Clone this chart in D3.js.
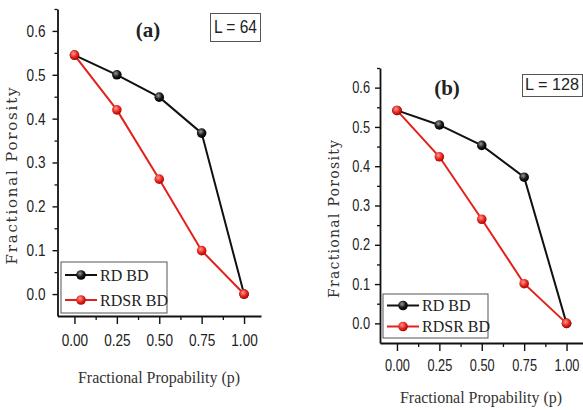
<!DOCTYPE html>
<html><head><meta charset="utf-8">
<script src="https://cdn.jsdelivr.net/npm/d3@7"></script>
<style>
html,body{margin:0;padding:0;background:#fff;}
svg{display:block;}
.tick text{font-family:"Liberation Sans Narrow","Arial Narrow","Liberation Sans",Arial,sans-serif;}
</style></head>
<body>
<svg id="chart" width="583" height="410"></svg>
<script>
// ---- data ----
const pValues = [0, 0.25, 0.5, 0.75, 1.0];
const rdBD_L64 = [0.545, 0.500, 0.449, 0.367, 0.0];
const rdsrBD_L64 = [0.545, 0.420, 0.262, 0.099, 0.0];
const rdBD_L128 = [0.542, 0.505, 0.453, 0.372, 0.0];
const rdsrBD_L128 = [0.542, 0.424, 0.265, 0.101, 0.0];
const xTickValues = [0, 0.25, 0.5, 0.75, 1.0];
const xMinorTicks = [0.125, 0.375, 0.625, 0.875];
const yTickValues = [0, 0.1, 0.2, 0.3, 0.4, 0.5, 0.6];
const yMinorTicks = [0.05, 0.15, 0.25, 0.35, 0.45, 0.55, 0.65];
const seriesNames = ["RD BD", "RDSR BD"];
const seriesColors = ["#111111", "#e3201c"];
const panelTitles = ["(a)", "(b)"];
const panelBoxLabels = ["L = 64", "L = 128"];
const xAxisTitle = "Fractional Propability (p)";
const yAxisTitle = "Fractional Porosity";

// ---- layout ----
const panels = [
  {series:[rdBD_L64, rdsrBD_L64], left:57.5, right:261, top:9, bottom:316,
   title:{x:148, y:37, size:21}, box:{x:210.5, y:13.5, w:50, h:28, tx:235.5, ty:33, size:18, tl:43},
   legend:{x:61, y:262, w:106, h:51, row:25, size:16},
   ylab:{x:17, y:176, len:177, size:15}, xlab:{x:159, y:383, len:162, size:16},
   xtickY:31, ytickX:12, tickSize:17},
  {series:[rdBD_L128, rdsrBD_L128], left:380, right:583.5, top:68, bottom:343,
   title:{x:447, y:95, size:21}, box:{x:522.5, y:74.5, w:60, h:22, tx:552, ty:90, size:17, tl:54},
   legend:{x:383, y:294, w:105, h:44, row:21, size:16},
   ylab:{x:339, y:219, len:158, size:14}, xlab:{x:481, y:403, len:162, size:16},
   xtickY:30, ytickX:10, tickSize:16}
];

const svg = d3.select("#chart");
const defs = svg.append("defs");
function grad(id, light, base, dark){
  const g = defs.append("radialGradient").attr("id", id).attr("cx","40%").attr("cy","35%").attr("r","65%");
  g.append("stop").attr("offset","0%").attr("stop-color", light);
  g.append("stop").attr("offset","55%").attr("stop-color", base);
  g.append("stop").attr("offset","100%").attr("stop-color", dark);
}
grad("g0", "#9a9a9a", "#1a1a1a", "#000");
grad("g1", "#ff9a90", "#e82a22", "#b00000");
const fills = ["url(#g0)", "url(#g1)"];
const SQ = 0.8;

function narrow(sel){
  sel.each(function(){
    const t = d3.select(this);
    const xv = +t.attr("x") || 0;
    t.attr("x", xv / SQ).attr("transform", `scale(${SQ},1)`);
  });
}

panels.forEach((P, pi) => {
  const x = d3.scaleLinear().domain([-0.1, 1.1]).range([P.left, P.right]);
  const y = d3.scaleLinear().domain([-0.05, 0.65]).range([P.bottom, P.top]);
  const g = svg.append("g");

  // minor ticks
  const xMinor = d3.axisBottom(x).tickValues(xMinorTicks).tickSize(4).tickFormat("");
  g.append("g").attr("transform", `translate(0,${P.bottom})`).call(xMinor)
    .call(s => s.select(".domain").remove())
    .call(s => s.selectAll("line").attr("stroke","#111").attr("stroke-width",1.3));
  const yMinor = d3.axisLeft(y).tickValues(yMinorTicks).tickSize(3).tickFormat("");
  g.append("g").attr("transform", `translate(${P.left},0)`).call(yMinor)
    .call(s => s.select(".domain").remove())
    .call(s => s.selectAll("line").attr("stroke","#111").attr("stroke-width",1.3));

  // major axes
  const xAxis = d3.axisBottom(x).tickValues(xTickValues).tickFormat(d3.format(".2f"))
     .tickSizeInner(8).tickSizeOuter(0).tickPadding(P.xtickY - 8 - 13);
  g.append("g").attr("transform", `translate(0,${P.bottom})`).call(xAxis)
    .call(s => s.select(".domain").attr("stroke","#111").attr("stroke-width",1.8))
    .call(s => s.selectAll(".tick line").attr("stroke","#111").attr("stroke-width",1.4))
    .call(s => s.selectAll(".tick text").attr("fill","#222").attr("font-size", P.tickSize).call(narrow));
  const yAxis = d3.axisLeft(y).tickValues(yTickValues).tickFormat(d3.format(".1f"))
     .tickSizeInner(5).tickSizeOuter(0).tickPadding(P.ytickX - 5);
  g.append("g").attr("transform", `translate(${P.left},0)`).call(yAxis)
    .call(s => s.select(".domain").attr("stroke","#111").attr("stroke-width",1.8))
    .call(s => s.selectAll(".tick line").attr("stroke","#111").attr("stroke-width",1.4))
    .call(s => s.selectAll(".tick text").attr("fill","#222").attr("font-size", P.tickSize).call(narrow));

  // lines + markers
  P.series.forEach((vals, si) => {
    const pts = pValues.map((p, i) => [p, vals[i]]);
    const line = d3.line().x(d => x(d[0])).y(d => y(d[1]));
    g.append("path").datum(pts).attr("d", line).attr("fill","none")
      .attr("stroke", seriesColors[si]).attr("stroke-width", 2);
  });
  P.series.forEach((vals, si) => {
    const pts = pValues.map((p, i) => [p, vals[i]]);
    g.selectAll(null).data(pts).enter().append("circle")
      .attr("cx", d => x(d[0])).attr("cy", d => y(d[1])).attr("r", 4.8)
      .attr("fill", fills[si]);
  });

  // title
  g.append("text").attr("x", P.title.x).attr("y", P.title.y).attr("text-anchor","middle")
    .attr("font-family","'Liberation Serif','Times New Roman',serif").attr("font-size", P.title.size)
    .attr("font-weight","bold").attr("fill","#222").text(panelTitles[pi]);

  // L box
  g.append("rect").attr("x", P.box.x).attr("y", P.box.y).attr("width", P.box.w).attr("height", P.box.h)
    .attr("fill","#fff").attr("stroke","#555").attr("stroke-width",1);
  g.append("text").attr("x", P.box.tx).attr("y", P.box.ty).attr("text-anchor","middle")
    .attr("font-family","'Liberation Sans Narrow','Arial Narrow','Liberation Sans',sans-serif")
    .attr("font-size", P.box.size).attr("fill","#222")
    .attr("textLength", P.box.tl).attr("lengthAdjust","spacingAndGlyphs").text(panelBoxLabels[pi]);

  // legend
  const L = P.legend;
  g.append("rect").attr("x", L.x).attr("y", L.y).attr("width", L.w).attr("height", L.h)
    .attr("fill","#fff").attr("stroke","#555").attr("stroke-width",1);
  seriesNames.forEach((name, si) => {
    const cy = L.y + L.h/2 + (si - 0.5) * L.row;
    g.append("line").attr("x1", L.x + 4).attr("x2", L.x + 36).attr("y1", cy).attr("y2", cy)
      .attr("stroke", seriesColors[si]).attr("stroke-width", 2);
    g.append("circle").attr("cx", L.x + 20).attr("cy", cy).attr("r", 4.8).attr("fill", fills[si]);
    g.append("text").attr("x", L.x + 39).attr("y", cy + 5.5)
      .attr("font-family","'Liberation Serif','Times New Roman',serif").attr("font-size", L.size)
      .attr("fill","#222").text(name);
  });

  // axis titles
  g.append("text").attr("transform", `translate(${P.ylab.x},${P.ylab.y}) rotate(-90)`)
    .attr("text-anchor","middle").attr("font-family","'DejaVu Serif','Liberation Serif',serif")
    .attr("font-size", P.ylab.size).attr("fill","#333")
    .attr("textLength", P.ylab.len).attr("lengthAdjust","spacing").text(yAxisTitle);
  g.append("text").attr("x", P.xlab.x).attr("y", P.xlab.y).attr("text-anchor","middle")
    .attr("font-family","'Liberation Serif','Times New Roman',serif")
    .attr("font-size", P.xlab.size).attr("fill","#333")
    .attr("textLength", P.xlab.len).attr("lengthAdjust","spacingAndGlyphs").text(xAxisTitle);
});
</script>
</body></html>
